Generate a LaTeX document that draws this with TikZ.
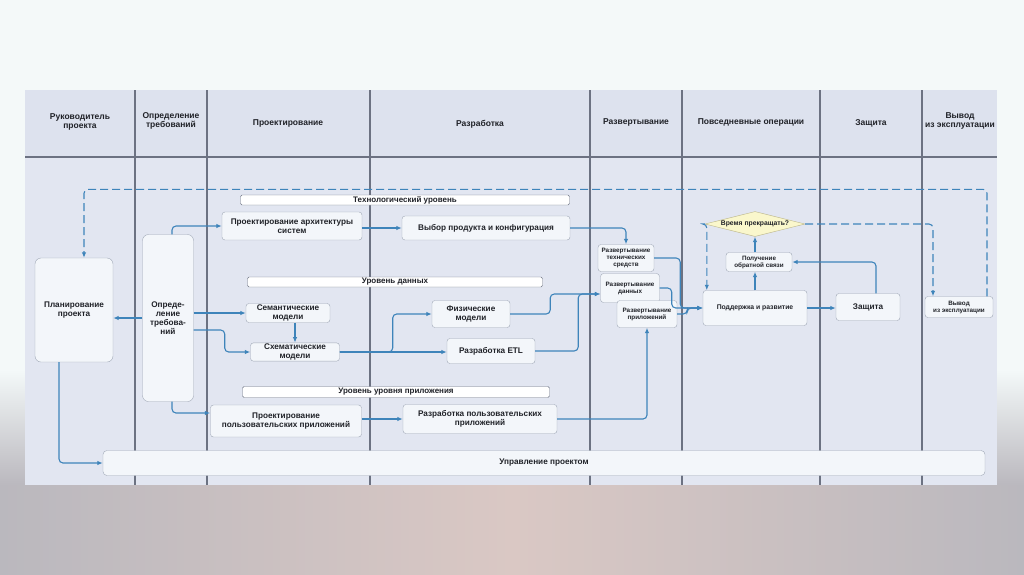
\documentclass[tikz,border=0pt]{standalone}
\usepackage{fontspec}
\setmainfont{Liberation Sans}
\usetikzlibrary{shapes.geometric, arrows.meta, positioning, calc}
\definecolor{slidetop}{RGB}{244,249,249}
\definecolor{slidegray}{RGB}{186,184,190}
\definecolor{slidepink}{RGB}{218,200,196}
\definecolor{lanefill}{RGB}{226,230,241}
\definecolor{headfill}{RGB}{221,226,238}
\definecolor{laneline}{RGB}{108,114,130}
\definecolor{flowblue}{RGB}{62,132,186}
\definecolor{boxfill}{RGB}{243,246,250}
\definecolor{boxline}{RGB}{160,168,182}
\definecolor{boxtext}{RGB}{32,34,40}
\definecolor{askfill}{RGB}{250,247,204}
\definecolor{askline}{RGB}{186,180,136}

\begin{document}
\begin{tikzpicture}[
    x=1pt, y=-1pt,
    header/.style={align=center, text=boxtext, font=\fontsize{8.5}{9.5}\selectfont\bfseries},
    task/.style={draw=boxline, fill=boxfill, rounded corners=3pt, align=center, inner sep=1pt, text=boxtext, font=\fontsize{8.2}{9}\selectfont\bfseries},
    smalltask/.style={task, font=\fontsize{6.3}{7}\selectfont\bfseries},
    levelbar/.style={draw=laneline, fill=white, rounded corners=1.5pt, inner sep=0pt, text=boxtext, font=\fontsize{8}{8}\selectfont\bfseries},
    decision/.style={diamond, aspect=4, draw=askline, fill=askfill, inner sep=0.5pt, minimum width=100pt, minimum height=25pt, text=boxtext, font=\fontsize{6.8}{7.5}\selectfont\bfseries},
    arrow/.style={-{Latex[length=5.5pt,width=4.5pt]}, flowblue, line width=1.1pt, rounded corners=4pt},
    dashedarrow/.style={arrow, dash pattern=on 8pt off 4pt}
]
    \useasboundingbox (0,0) rectangle (1024,574);

    % Slide background
    \fill[slidetop] (0,0) rectangle (1024,574);
    \shade[top color=slidetop, bottom color=slidegray] (0,370) rectangle (1024,485);
    \shade[left color=slidegray, right color=slidegray, middle color=slidepink] (0,485) rectangle (1024,574);

    % Swimlanes
    \fill[lanefill] (25,90) rectangle (997,485);
    \fill[headfill] (25,90) rectangle (997,157);
    \draw[laneline, line width=1.1pt] (25,157) -- (997,157);
    \foreach \x in {135,207,370,590,682,820,922}
        \draw[laneline, line width=1.1pt] (\x,90) -- (\x,485);

    % Lane headers
    \node[header] (hlead) at (80,122) {Руководитель\\проекта};
    \node[header] (hreq) at (171,121) {Определение\\требований};
    \node[header] (hdesign) at (288,123) {Проектирование};
    \node[header] (hdev) at (480,124) {Разработка};
    \node[header] (hdeploy) at (636,122) {Развертывание};
    \node[header] (hops) at (751,122) {Повседневные операции};
    \node[header] (hprotect) at (871,123) {Защита};
    \node[header] (hretire) at (960,121) {Вывод\\из эксплуатации};

    % Leader and requirements
    \node[task, minimum width=78pt, minimum height=104pt, rounded corners=6pt] (plan) at (74,310) {Планирование\\проекта};
    \node[task, minimum width=51pt, minimum height=167pt, rounded corners=6pt] (req) at (168,318) {Опреде-\\ление\\требова-\\ний};

    % Technology level
    \node[levelbar, minimum width=329pt, minimum height=10pt] (techlvl) at (405,200) {Технологический уровень};
    \node[task, minimum width=140pt, minimum height=28pt] (arch) at (292,226) {Проектирование архитектуры\\систем};
    \node[task, minimum width=168pt, minimum height=24pt] (prod) at (486,228) {Выбор продукта и конфигурация};

    % Data level
    \node[levelbar, minimum width=295pt, minimum height=10pt] (datalvl) at (395,282) {Уровень данных};
    \node[task, minimum width=84pt, minimum height=19pt] (sem) at (288,313) {Семантические\\модели};
    \node[task, minimum width=89pt, minimum height=18pt] (sch) at (295,352) {Схематические\\модели};
    \node[task, minimum width=78pt, minimum height=27pt] (phys) at (471,314) {Физические\\модели};
    \node[task, minimum width=88pt, minimum height=25pt] (etl) at (491,351) {Разработка ETL};

    % Application level
    \node[levelbar, minimum width=307pt, minimum height=11pt] (applvl) at (396,392) {Уровень уровня приложения};
    \node[task, minimum width=151pt, minimum height=32pt] (uidesign) at (286,421) {Проектирование\\пользовательских приложений};
    \node[task, minimum width=154pt, minimum height=29pt] (uidev) at (480,419) {Разработка пользовательских\\приложений};

    % Project management
    \node[task, minimum width=882pt, minimum height=25pt, rounded corners=4pt] (pm) at (544,463) {Управление проектом};

    % Deployment
    \node[smalltask, minimum width=56pt, minimum height=27pt] (deptech) at (626,258) {Развертывание\\технических\\средств};
    \node[smalltask, minimum width=59pt, minimum height=29pt] (depdata) at (630,288) {Развертывание\\данных};
    \node[smalltask, minimum width=60pt, minimum height=27pt] (depapp) at (647,314) {Развертывание\\приложений};

    % Operations, protection, retirement
    \node[task, minimum width=104pt, minimum height=35pt, font=\fontsize{6.8}{7.5}\selectfont\bfseries] (support) at (755,308) {Поддержка и развитие};
    \node[smalltask, minimum width=66pt, minimum height=19pt] (feedback) at (759,262) {Получение\\обратной связи};
    \node[decision] (ask) at (755,224) {Время прекращать?};
    \node[task, minimum width=64pt, minimum height=27pt] (protect) at (868,307) {Защита};
    \node[smalltask, minimum width=68pt, minimum height=21pt] (retire) at (959,307) {Вывод\\из эксплуатации};

    % Requirements flows
    \draw[arrow] (req.west) -- (req.west -| plan.east);
    \draw[arrow] ([xshift=4pt]req.north) |- (arch.west);
    \draw[arrow] (req.east |- sem.west) -- (sem.west);
    \draw[arrow] ([yshift=-12pt]req.east) -- ++(31,0) |- (sch.west);
    \draw[arrow] ([xshift=4pt]req.south) |- ([yshift=8pt]uidesign.west);
    \draw[arrow] ([xshift=-15pt]plan.south) |- (pm.west);

    % Design to development
    \draw[arrow] (arch.east |- prod.west) -- (prod.west);
    \draw[arrow] (sem.south -| sch.north) -- (sch.north);
    \draw[arrow] (sch.east) -- (sch.east -| etl.west);
    \draw[arrow] (sch.east) -- ++(53,0) |- (phys.west);
    \draw[arrow] (uidesign.east |- uidev.west) -- (uidev.west);

    % Development to deployment
    \draw[arrow] (prod.east) -| (deptech.north);
    \draw[arrow] (phys.east) -- ++(40,0) |- ([yshift=-6pt]depdata.west);
    \draw[arrow] (etl.east) -- ++(43,0) |- ([yshift=-6pt]depdata.west);
    \draw[arrow] (uidev.east) -| (depapp.south);

    % Deployment to operations
    \draw[arrow] (deptech.east) -- ++(26,0) |- (support.west);
    \draw[arrow] (depdata.east) -- ++(12,0) |- (support.west);
    \draw[arrow] (depapp.east) -- ++(10,0) |- (support.west);

    % Operations loop
    \draw[arrow] (support.east) -- (support.east -| protect.west);
    \draw[arrow] (support.north) -- (support.north |- feedback.south);
    \draw[arrow] (ask.south |- feedback.north) -- (ask.south);
    \draw[arrow] ([xshift=8pt]protect.north) |- (feedback.east);
    \draw[dashedarrow] (ask.west) -| ([xshift=4pt]support.north west);
    \draw[dashedarrow] (ask.east) -| ([xshift=-26pt]retire.north);
    \draw[dashedarrow] ([xshift=28pt]retire.north) -- ++(0,-107) -| ([xshift=10pt]plan.north);

\end{tikzpicture}
\end{document}
